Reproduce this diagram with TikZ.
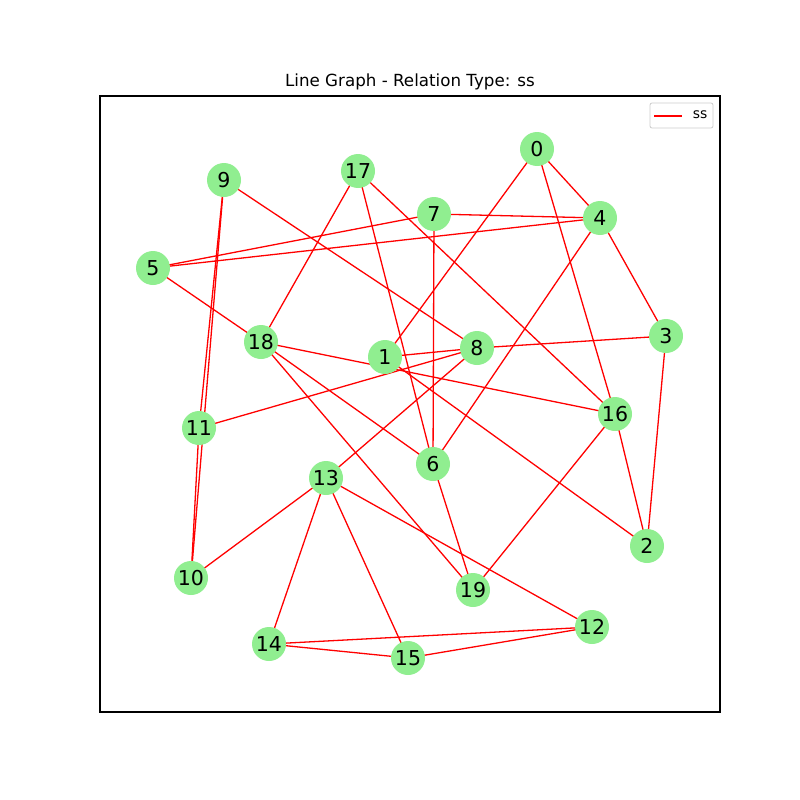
\documentclass[tikz,border=0pt]{standalone}
\usepackage{fontspec}
\setmainfont{DejaVu Sans}
\definecolor{lgreen}{HTML}{90EE90}
\begin{document}
\begin{tikzpicture}[x=1pt,y=-1pt,
  vertex/.style={circle,fill=lgreen,draw=none,minimum size=34pt,inner sep=0pt,font=\fontsize{20.5}{22}\selectfont},
  edge/.style={red,line width=1.3pt}]
\useasboundingbox (0,0) rectangle (800,800);
\node[font=\fontsize{16.7}{18}\selectfont] (title) at (410,82) {Line Graph - Relation Type: ss};
\draw[line width=1.1pt] (100,96) rectangle (720,712);
\coordinate (n0) at (537,149);
\coordinate (n1) at (385,357);
\coordinate (n2) at (647,546);
\coordinate (n3) at (666,336);
\coordinate (n4) at (600,218);
\coordinate (n5) at (153,268);
\coordinate (n6) at (433,464);
\coordinate (n7) at (434,214);
\coordinate (n8) at (477,348);
\coordinate (n9) at (224,180);
\coordinate (n10) at (191,578);
\coordinate (n11) at (199,428);
\coordinate (n12) at (592,627);
\coordinate (n13) at (326,478);
\coordinate (n14) at (269,644);
\coordinate (n15) at (408,658);
\coordinate (n16) at (615,414);
\coordinate (n17) at (358,171);
\coordinate (n18) at (261,342);
\coordinate (n19) at (473,590);
\foreach \a/\b in {0/4,0/1,0/16,4/3,4/7,4/5,4/6,7/5,7/6,9/8,9/11,9/10,5/18,17/18,17/6,17/16,18/16,18/6,18/19,1/8,8/3,1/2,8/11,8/13,3/2,16/2,16/19,6/19,13/10,13/14,13/15,13/12,14/12,14/15,15/12,11/10}
  \draw[edge] (n\a) -- (n\b);
\foreach \i in {0,...,19}
  \node[vertex] (v\i) at (n\i) {\i};
\draw[rounded corners=2pt,draw=black!20,fill=white,line width=0.8pt] (650,103) rectangle (713,128);
\coordinate (la) at (654,116);
\coordinate (lb) at (682,116);
\draw[edge] (la) -- (lb);
\node[font=\fontsize{13.9}{15}\selectfont,anchor=center] (legtext) at (700,115) {ss};
\end{tikzpicture}
\end{document}
